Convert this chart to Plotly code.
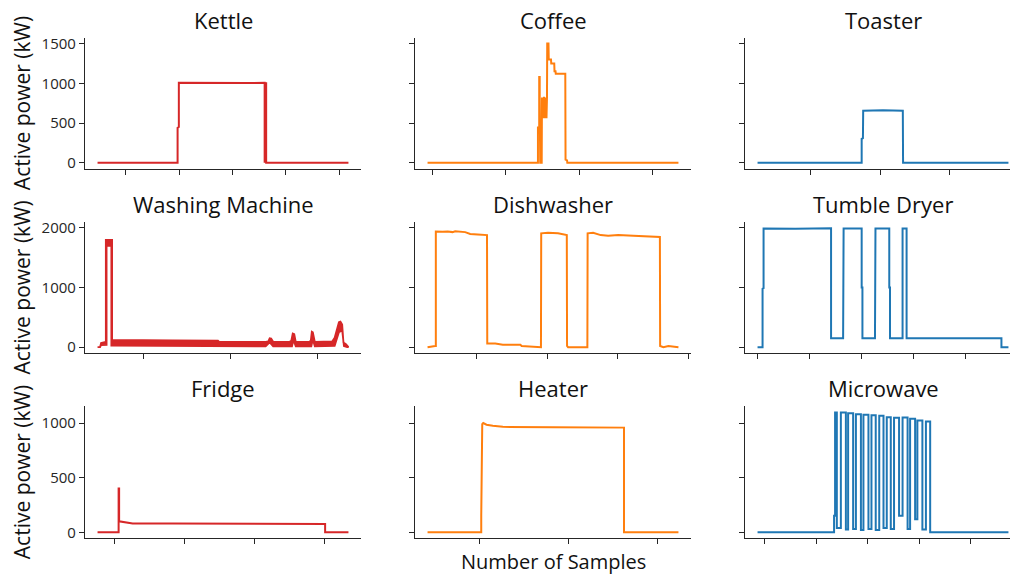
import plotly.graph_objects as go

# ---------------- data (x = sample index, y = active power) ----------------
kettle_x = [0, 319, 319, 324, 324, 420, 520, 600, 666, 666, 669, 669, 672, 672, 1000]
kettle_y = [0, 0, 440, 450, 1005, 1002, 1008, 1003, 1005, 0, 0, 1000, 1000, 0, 0]

coffee_x = [0, 440, 440, 445, 445, 447, 447, 449, 455, 456,
            458, 460, 462, 464, 466, 468, 470, 472, 474, 476,
            477, 482, 483, 492, 493, 505, 506, 510, 511, 549,
            550, 556, 557, 1000]
coffee_y = [0, 0, 443, 443, 1080, 1080, 820, 0, 0, 820,
            560, 820, 560, 830, 560, 820, 570, 820, 560, 820,
            1500, 1500, 1300, 1300, 1250, 1250, 1150, 1150, 1120, 1120,
            40, 30, 0, 0]

toaster_x = [0, 415, 415, 420, 421, 500, 579, 580, 1000]
toaster_y = [0, 0, 300, 310, 655, 660, 655, 0, 0]

# washing machine: noisy trace drawn as an upper / lower envelope band
wm_up_x = [0, 10, 14, 30, 33, 33, 58, 58, 150, 300,
           480, 485, 670, 680, 686, 692, 700, 765, 772, 778,
           784, 790, 845, 850, 854, 858, 866, 935, 945, 955,
           962, 968, 975, 980, 990, 1000]
wm_up_y = [0, 0, 70, 90, 90, 1800, 1800, 120, 115, 112,
           110, 90, 90, 95, 150, 145, 90, 90, 105, 230,
           220, 90, 90, 115, 260, 250, 90, 95, 160, 330,
           420, 430, 380, 80, 50, 0]
wm_lo_x = [0, 10, 14, 36, 36, 55, 55, 300, 480, 485,
           670, 686, 692, 700, 775, 781, 790, 852, 858, 866,
           945, 962, 975, 982, 995, 1000]
wm_lo_y = [0, 0, 35, 40, 1700, 1700, 25, 25, 20, 15,
           15, 80, 60, 15, 15, 120, 15, 15, 130, 15,
           20, 250, 280, 20, 0, 0]

dish_x = [0, 10, 30, 33, 33, 60, 80, 100, 110, 150,
          170, 200, 237, 238, 270, 300, 370, 375, 450, 452,
          453, 480, 520, 555, 556, 560, 637, 638, 660, 690,
          720, 760, 820, 870, 926, 927, 940, 960, 1000]
dish_y = [0, 10, 20, 20, 1940, 1935, 1940, 1930, 1945, 1930,
          1900, 1890, 1880, 60, 60, 40, 40, 20, 0, 0,
          1910, 1920, 1910, 1880, 20, 0, 0, 1910, 1920, 1880,
          1870, 1880, 1870, 1860, 1850, 20, 0, 20, 0]

dryer_x = [0, 20, 20, 24, 24, 150, 293, 293, 341, 341,
           343, 343, 415, 415, 418, 418, 468, 468, 470, 470,
           525, 525, 528, 528, 578, 578, 594, 594, 972, 972, 1000]
dryer_y = [0, 0, 980, 990, 1990, 1985, 1995, 150, 150, 1000,
           1000, 1990, 1990, 1000, 1000, 150, 150, 1000, 1000, 1990,
           1990, 1000, 1000, 150, 150, 1990, 1990, 150, 150, 0, 0]

fridge_x = [0, 84, 84, 86, 86, 100, 120, 140, 300, 600, 907, 907, 1000]
fridge_y = [0, 0, 400, 400, 100, 95, 85, 80, 80, 78, 75, 0, 0]

heater_x = [0, 214, 214, 218, 222, 235, 260, 300, 500, 700, 783, 783, 1000]
heater_y = [0, 0, 150, 990, 1000, 985, 975, 965, 962, 960, 958, 0, 0]

# microwave: on/off pulses
mw_start = [309, 332, 361, 392, 422, 454, 485, 515, 544, 578, 608, 637, 671]
mw_end = [316, 352, 381, 412, 442, 471, 502, 531, 564, 598, 628, 657, 688]
mw_peak = [1096, 1096, 1090, 1081, 1075, 1072, 1066, 1054, 1048, 1051, 1039, 1024, 1015]
mw_gap = [40, 25, 30, 20, 30, 20, 40, 30, 150, 30, 120, 25]
mw_lead_x = [0, 305, 305]
mw_lead_y = [0, 0, 150]

titles = ["Kettle", "Coffee", "Toaster",
          "Washing Machine", "Dishwasher", "Tumble Dryer",
          "Fridge", "Heater", "Microwave"]
ytick_rows = [[0, 500, 1000, 1500], [0, 1000, 2000], [0, 500, 1000]]
ylabel = "Active power (kW)"
xlabel = "Number of Samples"

# build microwave path from pulse table
mw_x = list(mw_lead_x)
mw_y = list(mw_lead_y)
for i in range(len(mw_start)):
    before = 150 if i == 0 else mw_gap[i - 1]
    after = mw_gap[i] if i < len(mw_gap) else 0
    mw_x += [mw_start[i], mw_start[i], mw_end[i], mw_end[i]]
    mw_y += [before, mw_peak[i], mw_peak[i], after]
mw_x += [1000]
mw_y += [0]

RED, ORANGE, BLUE = "#d62728", "#ff7f0e", "#1f77b4"
col_colors = [RED, ORANGE, BLUE]

series = [(kettle_x, kettle_y), (coffee_x, coffee_y), (toaster_x, toaster_y),
          None, (dish_x, dish_y), (dryer_x, dryer_y),
          (fridge_x, fridge_y), (heater_x, heater_y), (mw_x, mw_y)]

# ---------------- layout geometry ----------------
W, H = 1010, 581
col_px = [(85, 361), (415, 691), (745, 1021)]
row_px = [(33, 166), (220, 353), (406.7, 540.7)]
yranges = [[-75, 1575], [-100, 2100], [-55, 1155]]
xticks = [(112, 213), (19, 293), (212, 277),
          (183, 346.5), (195, 282), (0, 207),
          (66, 280), (208, 354.5), (29, 205)]
XR = [-50, 1050]
FONT = "Open Sans"
AX = "#262626"

fig = go.Figure()
layout = dict(width=W, height=H, margin=dict(l=0, r=0, t=0, b=0),
              paper_bgcolor="white", plot_bgcolor="white", showlegend=False,
              font=dict(family=FONT, color=AX))
annotations = []

for i in range(9):
    r, c = divmod(i, 3)
    n = "" if i == 0 else str(i + 1)
    color = col_colors[c]
    x0, x1 = col_px[c]
    xr = list(XR)
    if x1 > W:
        xr[1] = XR[0] + (XR[1] - XR[0]) * (W - x0) / (x1 - x0)
        x1 = W
    if i == 3:
        px_ = wm_up_x + wm_lo_x[::-1]
        py_ = wm_up_y + wm_lo_y[::-1]
        fig.add_trace(go.Scatter(x=px_, y=py_, mode="lines", fill="toself",
                                 fillcolor=color, line=dict(color=color, width=1.8),
                                 xaxis="x" + n, yaxis="y" + n, hoverinfo="skip"))
    else:
        sx, sy = series[i]
        fig.add_trace(go.Scatter(x=sx, y=sy, mode="lines",
                                 line=dict(color=color, width=2),
                                 xaxis="x" + n, yaxis="y" + n))
    t0, dt = xticks[i]
    ry0, ry1 = row_px[r]
    layout["xaxis" + n] = dict(domain=[x0 / W, x1 / W], range=xr, anchor="y" + n,
                               showgrid=False, zeroline=False, showline=True,
                               linecolor=AX, linewidth=1.2, ticks="outside",
                               ticklen=5, tickwidth=1.2, tickcolor=AX,
                               tickmode="linear", tick0=t0, dtick=dt,
                               showticklabels=False, fixedrange=True)
    layout["yaxis" + n] = dict(domain=[1 - ry1 / H, 1 - ry0 / H], range=yranges[r],
                               anchor="x" + n, showgrid=False, zeroline=False,
                               showline=True, linecolor=AX, linewidth=1.2,
                               ticks="outside", ticklen=5, tickwidth=1.2, tickcolor=AX,
                               tickmode="array", tickvals=ytick_rows[r],
                               showticklabels=(c == 0),
                               tickfont=dict(family=FONT, size=15, color=AX),
                               fixedrange=True)
    annotations.append(dict(text=titles[i], xref="paper", yref="paper",
                            x=(col_px[c][0] + col_px[c][1]) / 2 / W,
                            y=1 - ry0 / H, xanchor="center", yanchor="bottom",
                            yshift=1, showarrow=False,
                            font=dict(family=FONT, size=22, color="#111")))
    if c == 0:
        annotations.append(dict(text=ylabel, xref="paper", yref="paper",
                                x=22 / W, y=1 - (ry0 + ry1) / 2 / H,
                                xanchor="center", yanchor="middle", textangle=-90,
                                showarrow=False,
                                font=dict(family=FONT, size=21, color="#111")))

annotations.append(dict(text=xlabel, xref="paper", yref="paper",
                        x=(col_px[1][0] + col_px[1][1]) / 2 / W, y=1 - 564 / H,
                        xanchor="center", yanchor="middle", showarrow=False,
                        font=dict(family=FONT, size=20, color="#111")))
layout["annotations"] = annotations
fig.update_layout(**layout)
fig.write_html("out.html")
